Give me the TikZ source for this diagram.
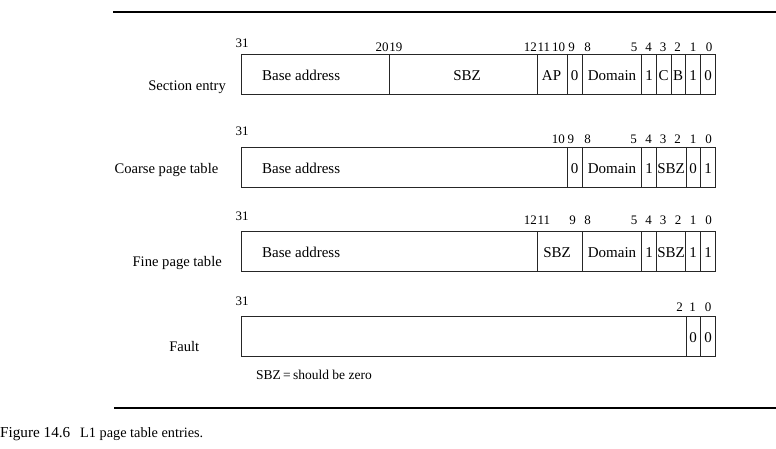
\documentclass[tikz,border=0pt]{standalone}
\usepackage{fontspec}
\setmainfont{Liberation Serif}
\begin{document}
\begin{tikzpicture}[x=1pt,y=-1pt,
  fld/.style={draw=black!85,line width=0.9pt},
  num/.style={inner sep=0,anchor=base,font=\fontsize{13}{15}\selectfont},
  numw/.style={num,anchor=base west},
  nume/.style={num,anchor=base east},
  txt/.style={inner sep=0,anchor=base,font=\fontsize{15}{17}\selectfont},
  txtw/.style={txt,anchor=base west},
  rowlbl/.style={inner sep=0,anchor=base east,font=\fontsize{14.6}{17}\selectfont},
  rulel/.style={line width=1.2pt}]
\useasboundingbox (0,0) rectangle (776,449);
% rules
\coordinate (r1a) at (113,12); \coordinate (r1b) at (776,12);
\coordinate (r2a) at (114,408); \coordinate (r2b) at (776,408);
\draw[rulel] (r1a) -- (r1b);
\draw[rulel] (r2a) -- (r2b);
% ---------- Section entry ----------
\draw[fld] (241,54) rectangle (715.7,94);
\foreach \x in {389,537.3,567.3,582.3,641.7,656,671,685.7,700.7}
  \draw[fld] (\x,54) -- (\x,94);
\node[num] (s31) at (242,48) {31};
\node[nume] (s20) at (388.8,51.5) {20};
\node[numw] (s19) at (389.2,51.5) {19};
\node[nume] (s12) at (537,51.5) {12};
\node[numw] (s11) at (537.4,51.5) {11};
\node[num] (s10) at (558.5,51.5) {10};
\node[num] (s9) at (571.5,51.5) {9};
\node[num] (s8) at (587.5,51.5) {8};
\node[num] (s5) at (634,51.5) {5};
\node[num] (s4) at (648.5,51.5) {4};
\node[num] (s3) at (663,51.5) {3};
\node[num] (s2) at (677.5,51.5) {2};
\node[num] (s1) at (693,51.5) {1};
\node[num] (s0) at (709,51.5) {0};
\node[txtw] (sba) at (262,80.5) {Base address};
\node[txt] (ssbz) at (467,80.5) {SBZ};
\node[txt] (sap) at (551.5,80.5) {AP};
\node[txt] (sf9) at (574.5,80.5) {0};
\node[txt] (sdom) at (612,80.5) {Domain};
\node[txt] (sf4) at (649,80.5) {1};
\node[txt] (sf3) at (663.5,80.5) {C};
\node[txt] (sf2) at (678,80.5) {B};
\node[txt] (sf1) at (693,80.5) {1};
\node[txt] (sf0) at (708,80.5) {0};
\node[rowlbl] (lsec) at (226,90.5) {Section entry};
% ---------- Coarse page table ----------
\draw[fld] (241,147) rectangle (715.7,187);
\foreach \x in {567.3,582.3,641.7,656,686,700.7}
  \draw[fld] (\x,147) -- (\x,187);
\node[num] (c31) at (242,135.5) {31};
\node[nume] (c10) at (565,144) {10};
\node[numw] (c9) at (567.5,144) {9};
\node[num] (c8) at (587.5,144) {8};
\node[num] (c5) at (633.5,144) {5};
\node[num] (c4) at (648.5,144) {4};
\node[num] (c3) at (663,144) {3};
\node[num] (c2) at (677.5,144) {2};
\node[num] (c1) at (693,144) {1};
\node[num] (c0) at (708.5,144) {0};
\node[txtw] (cba) at (262,173.5) {Base address};
\node[txt] (cf9) at (574.5,173.5) {0};
\node[txt] (cdom) at (612,173.5) {Domain};
\node[txt] (cf4) at (649,173.5) {1};
\node[txt] (csbz) at (671,173.5) {SBZ};
\node[txt] (cf1) at (693,173.5) {0};
\node[txt] (cf0) at (708,173.5) {1};
\node[rowlbl] (lcoa) at (218.5,174) {Coarse page table};
% ---------- Fine page table ----------
\draw[fld] (241,231) rectangle (715.7,271);
\foreach \x in {537.3,582.3,641.7,656,685.7,700.7}
  \draw[fld] (\x,231) -- (\x,271);
\node[num] (f31) at (242,220) {31};
\node[nume] (f12) at (537,225) {12};
\node[numw] (f11) at (537.4,225) {11};
\node[num] (f9) at (572.5,225) {9};
\node[num] (f8) at (587.5,225) {8};
\node[num] (f5) at (634,225) {5};
\node[num] (f4) at (648.5,225) {4};
\node[num] (f3) at (663,225) {3};
\node[num] (f2) at (678,225) {2};
\node[num] (f1) at (693,225) {1};
\node[num] (f0) at (708.5,225) {0};
\node[txtw] (fba) at (262,257.5) {Base address};
\node[txt] (fsbz1) at (557,257.5) {SBZ};
\node[txt] (fdom) at (612,257.5) {Domain};
\node[txt] (ff4) at (649,257.5) {1};
\node[txt] (fsbz2) at (671,257.5) {SBZ};
\node[txt] (ff1) at (693,257.5) {1};
\node[txt] (ff0) at (708,257.5) {1};
\node[rowlbl] (lfin) at (222,266.5) {Fine page table};
% ---------- Fault ----------
\draw[fld] (241,316) rectangle (715.7,356);
\foreach \x in {686,700.7}
  \draw[fld] (\x,316) -- (\x,356);
\node[num] (t31) at (242,305) {31};
\node[num] (t2) at (679.5,311.5) {2};
\node[num] (t1) at (692.5,311.5) {1};
\node[num] (t0) at (708,311.5) {0};
\node[txt] (tf1) at (693,342.5) {0};
\node[txt] (tf0) at (708,342.5) {0};
\node[rowlbl] (lflt) at (199.5,351.5) {Fault};
% note
\node[txtw,font=\fontsize{13.5}{15}\selectfont] (note) at (256,379.5) {SBZ\,=\,should be zero};
% caption
\node[txtw,font=\fontsize{15.2}{18}\selectfont] (capn) at (0,437) {Figure 14.6};
\node[txtw,font=\fontsize{14.3}{17}\selectfont] (capt) at (80,437) {L1 page table entries.};
\end{tikzpicture}
\end{document}
